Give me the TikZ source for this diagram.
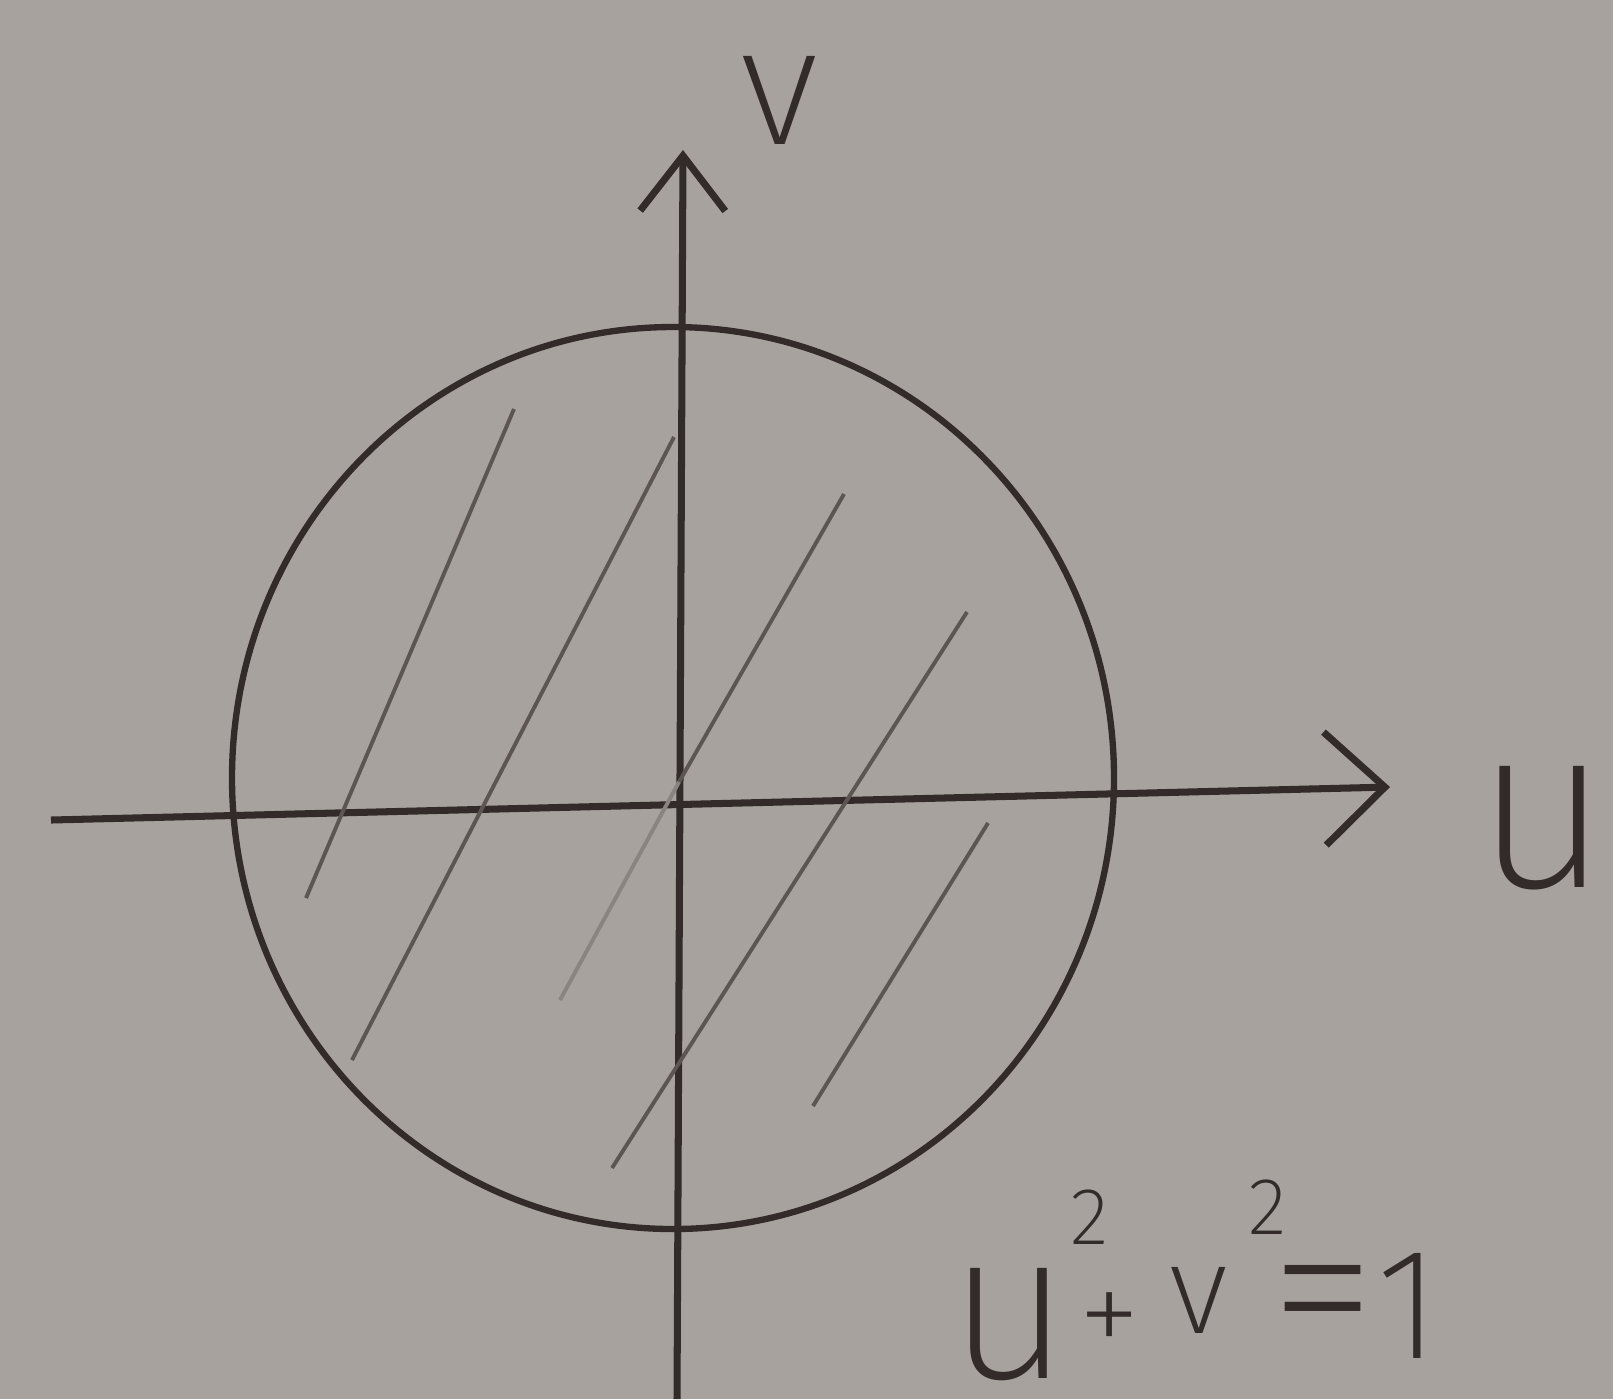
\documentclass[tikz,border=0pt]{standalone}
\usepackage{fontspec}
\usetikzlibrary{arrows.meta}

\newfontfamily\handfont{Fira Sans}[UprightFont=* ExtraLight]

\definecolor{paper}{RGB}{167,162,158}
\definecolor{ink}{RGB}{50,43,41}
\definecolor{hatchink}{RGB}{92,85,82}
\definecolor{faintink}{RGB}{138,132,128}

\newcommand{\handsize}[1]{\fontsize{#1}{#1}\selectfont}

\tikzset{
    axis/.style={draw=ink, line width=2pt},
    hatch/.style={draw=hatchink, line width=1.1pt},
    label/.style={text=ink, inner sep=0pt},
}

\begin{document}
\begin{tikzpicture}[x=0.01cm, y=-0.01cm]
    \fill[paper] (0,0) rectangle (1613,1399);
    \useasboundingbox (0,0) rectangle (1613,1399);

    % axes
    \coordinate (uL) at (51,820);
    \coordinate (uR) at (1390,787);
    \coordinate (vB) at (677,1399);
    \coordinate (vT) at (683,150);

    \draw[axis, -{Straight Barb[length=0.6cm, width=1.13cm]}] (uL) -- (uR);
    \draw[axis, -{Straight Barb[length=0.55cm, width=0.85cm]}] (vB) -- (vT);

    \node[label, font=\handfont\handsize{48}] (v) at (779,100) {v};
    \node[label, font=\handfont\handsize{66}] (u) at (1543,828) {u};

    % the disc
    \draw[axis, line width=1.8pt] (673,778) ellipse [x radius=441, y radius=451];

    % hatching
    \coordinate (h1a) at (514,409);  \coordinate (h1b) at (306,898);
    \coordinate (h2a) at (674,437);  \coordinate (h2b) at (352,1060);
    \coordinate (h3a) at (844,494);  \coordinate (h3m) at (679,782);
    \coordinate (h3b) at (560,1000);
    \coordinate (h4a) at (967,612);  \coordinate (h4b) at (612,1168);
    \coordinate (h5a) at (988,823);  \coordinate (h5b) at (813,1106);

    \draw[hatch] (h1a) -- (h1b);
    \draw[hatch] (h2a) -- (h2b);
    \draw[hatch] (h3a) -- (h3m);
    \draw[hatch, draw=faintink] (h3m) -- (h3b);
    \draw[hatch] (h4a) -- (h4b);
    \draw[hatch] (h5a) -- (h5b);

    \node[label, font=\handfont, anchor=base west] (eq) at (948,1378) {%
        \handsize{60}u%
        \raisebox{1.33cm}{\rlap{\handsize{23}2}}\kern2.3pt%
        \raisebox{0.22cm}{\handsize{36}+}\kern8pt%
        \raisebox{0.45cm}{\handsize{36}v}\kern6pt%
        \raisebox{1.43cm}{\rlap{\handsize{23}2}}\kern6pt%
        \raisebox{0.18cm}{\handsize{62}=}\kern0pt%
        \raisebox{0.2cm}{\handsize{45}1}};
\end{tikzpicture}
\end{document}
